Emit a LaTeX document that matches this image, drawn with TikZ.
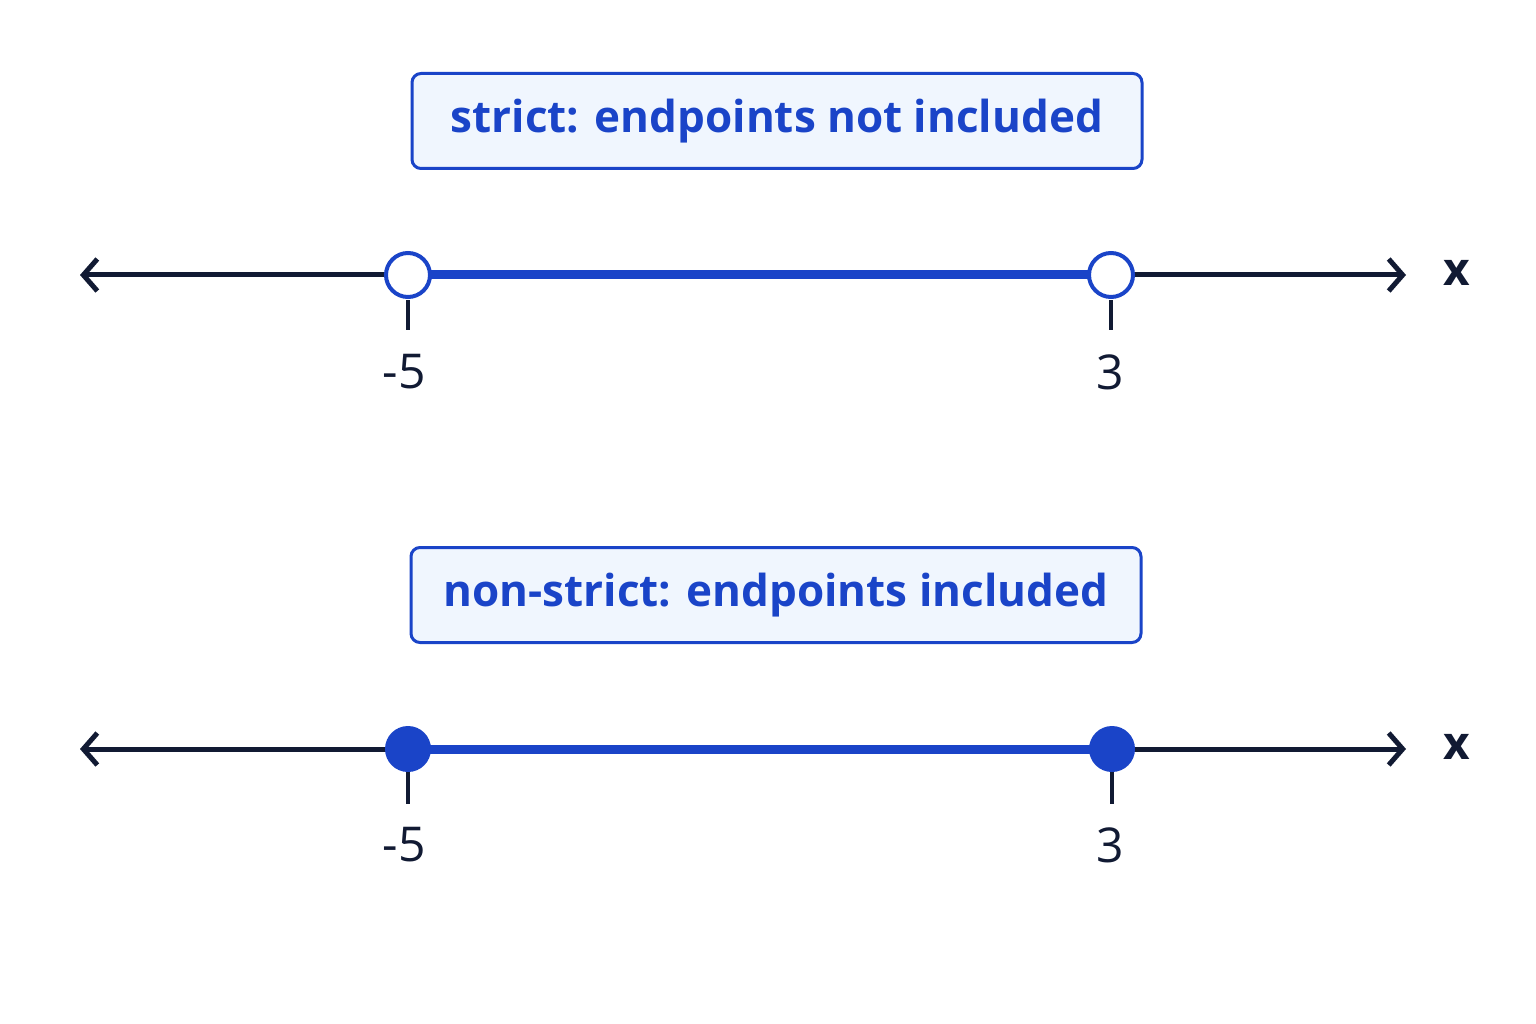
\documentclass[tikz,border=0pt]{standalone}
\usepackage{fontspec}
\setmainfont{Open Sans}
\usetikzlibrary{arrows.meta}
\definecolor{bl}{HTML}{1A44C8}
\definecolor{nv}{HTML}{111A33}
\definecolor{lb}{HTML}{F0F6FE}
\begin{document}
\begin{tikzpicture}[x=1pt,y=-1pt,
 lbl/.style={draw=bl,line width=3pt,fill=lb,rounded corners=9pt,minimum width=730pt,minimum height=95pt,text=bl,font=\fontsize{44}{50}\selectfont\bfseries},
 axis/.style={nv,line width=5pt,{Straight Barb[length=14pt,width=32pt,line width=5pt]}-{Straight Barb[length=14pt,width=32pt,line width=5pt]}},
 seg/.style={bl,line width=9pt},
 opn/.style={circle,draw=bl,line width=4pt,fill=white,minimum size=44pt,inner sep=0pt},
 cls/.style={circle,fill=bl,minimum size=46pt,inner sep=0pt},
 tk/.style={nv,line width=3.5pt},
 num/.style={text=nv,font=\fontsize{48}{54}\selectfont},
 xl/.style={text=nv,font=\fontsize{46}{52}\selectfont\bfseries}]
\useasboundingbox[fill=white] (0,0) rectangle (1536,1024);
\node[lbl] (b1) at (777,121) {strict: endpoints not included};
\coordinate (l1) at (80,275); \coordinate (r1) at (1406,275);
\draw[axis] (l1) -- (r1);
\coordinate (a1) at (408,275); \coordinate (c1) at (1111,275);
\draw[seg] (a1) -- (c1);
\coordinate (ta1) at (408,300); \coordinate (tb1) at (408,330);
\coordinate (tc1) at (1111,300); \coordinate (td1) at (1111,330);
\draw[tk] (ta1) -- (tb1); \draw[tk] (tc1) -- (td1);
\node[opn] (o1) at (a1) {}; \node[opn] (o2) at (c1) {};
\node[num] (n1) at (404,372) {-5};
\node[num] (n2) at (1110,372) {3};
\node[xl] (x1) at (1457,273) {x};

\node[lbl] (b2) at (776,595) {non-strict: endpoints included};
\coordinate (l2) at (80,749); \coordinate (r2) at (1406,749);
\draw[axis] (l2) -- (r2);
\coordinate (a2) at (408,749); \coordinate (c2) at (1112,749);
\draw[seg] (a2) -- (c2);
\coordinate (ta2) at (408,770); \coordinate (tb2) at (408,804);
\coordinate (tc2) at (1112,770); \coordinate (td2) at (1112,804);
\draw[tk] (ta2) -- (tb2); \draw[tk] (tc2) -- (td2);
\node[cls] (f1) at (a2) {}; \node[cls] (f2) at (c2) {};
\node[num] (n3) at (404,845) {-5};
\node[num] (n4) at (1110,845) {3};
\node[xl] (x2) at (1457,747) {x};
\end{tikzpicture}
\end{document}
